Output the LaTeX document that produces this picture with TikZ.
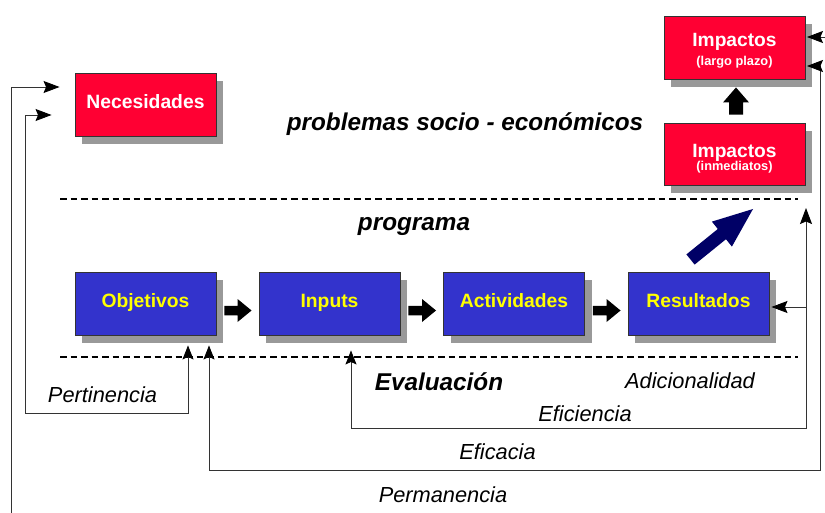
\documentclass[tikz,border=0pt]{standalone}
\usepackage{fontspec}
\setmainfont{Liberation Sans}
\usetikzlibrary{shadows,arrows.meta,calc}
\definecolor{boxred}{HTML}{FF0033}
\definecolor{boxblue}{HTML}{3333CC}
\definecolor{txtyellow}{HTML}{FFFF00}
\definecolor{navyarrow}{HTML}{000066}
\definecolor{shadowgray}{HTML}{999999}
\definecolor{linegray}{HTML}{333333}
\newcommand{\harrow}[2]{%
  \fill[black] ($(#1)+(0,-4.75)$) -- ($(#2)+(-14,-4.75)$) -- ($(#2)+(-14,-11.5)$) -- (#2)
    -- ($(#2)+(-14,11.5)$) -- ($(#2)+(-14,4.75)$) -- ($(#1)+(0,4.75)$) -- cycle;}
\begin{document}
\begin{tikzpicture}[x=1pt,y=-1pt,
  box/.style={draw=linegray, line width=0.9pt, minimum width=141pt, minimum height=63pt,
    inner sep=0pt, text height=8pt, text depth=0pt,
    font=\fontsize{19.3}{21}\selectfont\bfseries,
    drop shadow={shadow xshift=7pt,shadow yshift=-8pt,fill=shadowgray,opacity=1}},
  redbox/.style={box, fill=boxred, text=white},
  bluebox/.style={box, fill=boxblue, text=txtyellow},
  conn/.style={line width=0.9pt, draw=linegray, -{Stealth[length=16pt,width=12pt,inset=2.5pt,color=black]}},
  biconn/.style={line width=0.9pt, draw=linegray, {Stealth[length=14pt,width=11pt,inset=2.5pt,color=black]}-{Stealth[length=16pt,width=12pt,inset=2.5pt,color=black]}},
  dashline/.style={line width=1.4pt, dash pattern=on 6.5pt off 4pt},
  lbl/.style={font=\fontsize{21.8}{24}\selectfont\itshape, anchor=base},
  big/.style={font=\fontsize{24.3}{27}\selectfont\bfseries\itshape, anchor=base},
  imptxt/.style={anchor=base, text=white, font=\fontsize{19.2}{21}\selectfont\bfseries},
  impsub/.style={anchor=base, text=white, font=\fontsize{12.8}{14}\selectfont\bfseries}
]
\useasboundingbox (0,0) rectangle (825,513);

% boxes
\node[redbox] (nec) at (145.5,104.5) {Necesidades};
\node[bluebox] (obj) at (145.5,303.5) {Objetivos};
\node[bluebox] (inp) at (329.5,303.5) {Inputs};
\node[bluebox] (act) at (514,303.5) {Actividades};
\node[bluebox] (res) at (698.5,303.5) {Resultados};
\node[redbox] (iml) at (734.5,47.5) {};
\node[redbox, minimum height=62pt] (imi) at (734.5,154) {};

\node[imptxt] (implt) at (734.5,47) {Impactos};
\node[impsub] (implsub) at (734.5,66) {(largo plazo)};
\node[imptxt] (impit) at (734.5,158) {Impactos};
\node[impsub] (impisub) at (734.5,171) {(inmediatos)};

% dashed separators
\draw[dashline] (60,199) -- (798,199);
\draw[dashline] (60,357) -- (798,357);

% block arrows between program boxes
\coordinate (b1s) at ($(obj.east)+(8,7)$);  \coordinate (b1e) at ($(inp.west)+(-7,7)$);
\coordinate (b2s) at ($(inp.east)+(8,7)$);  \coordinate (b2e) at ($(act.west)+(-7,7)$);
\coordinate (b3s) at ($(act.east)+(8,7)$);  \coordinate (b3e) at ($(res.west)+(-7,7)$);
\harrow{b1s}{b1e}
\harrow{b2s}{b2e}
\harrow{b3s}{b3e}

% block arrow between impact boxes
\coordinate (ups) at ($(imi.north)+(1.5,-8)$);
\coordinate (upe) at ($(iml.south)+(1.5,8)$);
\fill[black] ($(ups)+(-7,0)$) -- ($(upe)+(-7,15)$) -- ($(upe)+(-13,15)$) -- (upe)
  -- ($(upe)+(13,15)$) -- ($(upe)+(7,15)$) -- ($(ups)+(7,0)$) -- cycle;

% navy diagonal arrow
\fill[navyarrow] (686.4,254.4) -- (717.8,229.0) -- (711.9,221.6) -- (753,209)
  -- (731.9,246.6) -- (726.0,239.2) -- (694.6,264.6) -- cycle;

% texts
\node[big] (tprob) at (465,131) {problemas socio - económicos};
\node[big] (tprog) at (414,231) {programa};
\node[big] (teval) at (439,390) {Evaluación};
\node[lbl] (tadic) at (690,388) {Adicionalidad};
\node[lbl] (tefi) at (585,421.5) {Eficiencia};
\node[lbl] (tefa) at (497.5,459) {Eficacia};
\node[lbl] (tperm) at (443,502) {Permanencia};
\node[lbl] (tpert) at (102.5,402) {Pertinencia};

% connectors
% Pertinencia
\coordinate (pA) at (188,413); \coordinate (pB) at (25,413); \coordinate (pC) at (25,115);
\draw[biconn, shorten <=10pt, shorten >=23pt] (obj.south -| pA) -- (pA) -- (pB) -- (pC) -- (pC -| nec.west);
% Permanencia
\coordinate (mA) at (11,513); \coordinate (mB) at (11,87);
\draw[conn, shorten >=15pt] (mA) -- (mB) -- (mB -| nec.west);
\coordinate (mR) at (825,37);
\draw[conn, shorten >=1.5pt] (mR) -- (mR -| iml.east);
% Eficacia
\coordinate (cA) at (209,470); \coordinate (cB) at (820,470); \coordinate (cC) at (820,66);
\draw[biconn, shorten <=10pt, shorten >=1.5pt] (obj.south -| cA) -- (cA) -- (cB) -- (cC) -- (cC -| iml.east);
% Eficiencia
\coordinate (fA) at (351,428); \coordinate (fB) at (806,428); \coordinate (fT) at (806,208);
\draw[biconn, shorten <=15pt] (inp.south -| fA) -- (fA) -- (fB) -- (fT);
\coordinate (fM) at (806,307);
\draw[conn, shorten >=2pt] (fM) -- (fM -| res.east);
\end{tikzpicture}
\end{document}
